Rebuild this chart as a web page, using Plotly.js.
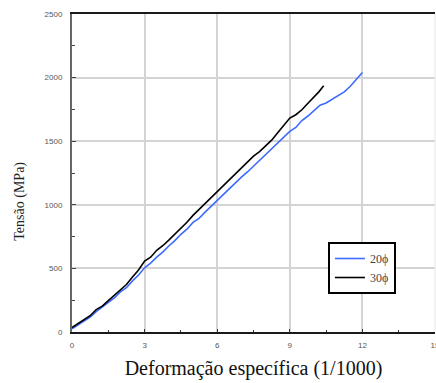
<!DOCTYPE html>
<html>
<head>
<meta charset="utf-8">
<script src="https://cdn.plot.ly/plotly-3.0.1.min.js"></script>
<style>html,body{margin:0;padding:0;background:#fff;}#chart{width:436px;height:383px;}</style>
</head>
<body>
<div id="chart"></div>
<script>
// Series 20ϕ (blue)
const x20 = [0,0.25,0.5,0.75,1.0,1.25,1.5,1.75,2.0,2.25,2.5,2.75,3.0,3.25,3.5,3.75,4.0,4.25,4.5,4.75,5.0,5.25,5.5,5.75,6.0,6.25,6.5,6.75,7.0,7.25,7.5,7.75,8.0,8.25,8.5,8.75,9.0,9.25,9.5,9.75,10.0,10.25,10.5,10.75,11.0,11.25,11.5,11.75,12.0];
const y20 = [25,55,88,118,160,198,236,268,315,348,402,448,505,542,588,628,676,718,768,808,862,893,942,988,1040,1083,1128,1172,1218,1258,1303,1348,1392,1438,1487,1528,1577,1608,1662,1698,1742,1783,1800,1828,1862,1888,1932,1983,2040];
// Series 30ϕ (black)
const x30 = [0,0.25,0.5,0.75,1.0,1.25,1.5,1.75,2.0,2.25,2.5,2.75,3.0,3.25,3.5,3.75,4.0,4.25,4.5,4.75,5.0,5.25,5.5,5.75,6.0,6.25,6.5,6.75,7.0,7.25,7.5,7.75,8.0,8.25,8.5,8.75,9.0,9.25,9.5,9.75,10.0,10.2,10.4];
const y30 = [35,68,102,128,176,203,247,288,332,373,432,488,557,588,642,678,722,768,822,863,917,963,1017,1058,1102,1148,1197,1243,1292,1333,1382,1418,1462,1508,1567,1623,1682,1708,1747,1798,1847,1888,1935];
const names = ["20ϕ", "30ϕ"];
const xTicks = [0,3,6,9,12,15];
const yTicks = [0,500,1000,1500,2000,2500];

const traces = [
  {x: x20, y: y20, name: names[0], type: 'scatter', mode: 'lines',
   line: {color: '#3d6bff', width: 1.6}},
  {x: x30, y: y30, name: names[1], type: 'scatter', mode: 'lines',
   line: {color: '#000000', width: 1.6}}
];

const layout = {
  width: 436, height: 383,
  margin: {l: 72, r: 1, t: 14, b: 51},
  paper_bgcolor: '#ffffff', plot_bgcolor: '#ffffff',
  showlegend: true,
  legend: {
    x: 0.705, y: 0.283, xanchor: 'left', yanchor: 'top',
    bgcolor: '#ffffff', bordercolor: '#000000', borderwidth: 2,
    font: {family: 'Liberation Serif, serif', size: 12, color: '#444'},
    itemwidth: 30, tracegroupgap: 4
  },
  xaxis: {
    range: [0, 15], tickvals: xTicks, ticktext: xTicks.map(String),
    showgrid: true, gridcolor: '#d4d4d4', gridwidth: 2,
    zeroline: false, showline: true, linecolor: '#1a1a1a', linewidth: 2, mirror: true,
    ticks: 'inside', ticklen: 3, tickcolor: '#333',
    ticklabeloverflow: 'allow', ticklabelstandoff: 4,
    minor: {dtick: 1.5, ticks: 'inside', ticklen: 2, tickcolor: '#333', showgrid: false},
    tickfont: {family: 'Liberation Sans, Arial, sans-serif', size: 8, color: '#555'},
    title: {text: 'Deformação específica (1/1000)', standoff: 12,
            font: {family: 'Liberation Serif, serif', size: 20, color: '#111'}}
  },
  yaxis: {
    range: [0, 2500], tickvals: yTicks, ticktext: yTicks.map(String),
    showgrid: true, gridcolor: '#d4d4d4', gridwidth: 2,
    zeroline: false, showline: true, linecolor: '#666666', linewidth: 2,
    ticks: 'inside', ticklen: 4, tickcolor: '#444',
    ticklabelstandoff: 6,
    minor: {dtick: 250, ticks: 'inside', ticklen: 3, tickcolor: '#444', showgrid: false},
    tickfont: {family: 'Liberation Sans, Arial, sans-serif', size: 8, color: '#555'}
  },
  annotations: [
    {text: 'Tensão (MPa)', xref: 'paper', yref: 'paper', x: -0.143, y: 0.41,
     xanchor: 'center', yanchor: 'middle', textangle: -90, showarrow: false,
     font: {family: 'Liberation Serif, serif', size: 14, color: '#222'}}
  ],
  shapes: [
    {type: 'line', xref: 'paper', yref: 'paper', x0: 1, x1: 1, y0: 0, y1: 1,
     line: {color: '#e6e6e6', width: 1}}
  ]
};

Plotly.newPlot('chart', traces, layout, {displayModeBar: false, staticPlot: true});
</script>
</body>
</html>
